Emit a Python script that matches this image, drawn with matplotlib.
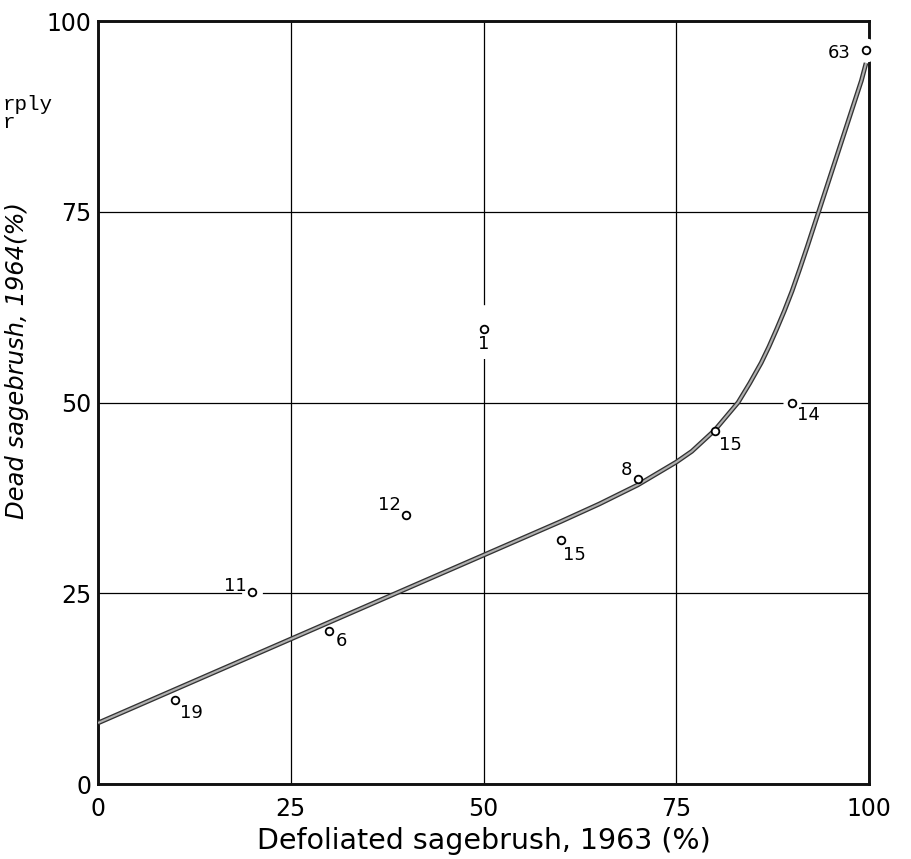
import numpy as np
import matplotlib
matplotlib.use("Agg")
import matplotlib.pyplot as plt

# Observed points: % defoliated 1963 vs % dead 1964, with sample sizes
defoliated = [10, 20, 30, 40, 50, 60, 70, 80, 90, 99.6]
dead = [11, 25.2, 20, 35.3, 59.7, 32, 40, 46.3, 50, 96.2]
n_plants = ["19", "11", "6", "12", "1", "15", "8", "15", "14", "63"]

# Hand-drawn fitted curve
curve_x = [0, 10, 20, 25, 30, 40, 50, 55, 60, 65, 70, 75, 77, 80, 83,
           84.5, 86, 87, 88, 89, 90, 91, 92, 93, 94, 95, 96, 97, 98, 99, 99.6]
curve_y = [8, 12.4, 16.8, 19, 21.2, 25.6, 30, 32.2, 34.4, 36.7, 39.2, 42.2,
           43.6, 46.4, 50, 52.5, 55.2, 57.3, 59.6, 62.0, 64.6, 67.5, 70.5,
           73.6, 76.7, 79.8, 82.9, 86.0, 89.1, 92.2, 94.5]

ticks = [0, 25, 50, 75, 100]
tick_labels = ["0", "25", "50", "75", "100"]

# label offsets (points) relative to each marker
label_offsets = [(12, -9), (-12, 4), (9, -7), (-12, 7), (0, -11.5),
                 (10, -11), (-8, 6), (11.5, -10), (12, -9), (-19, -2)]
halo_sizes = [0, 14, 0, 0, 34, 0, 0, 14, 12, 16]

fig = plt.figure(figsize=(9.12, 8.59), dpi=100)
ax = fig.add_axes([0.1075, 0.0873, 0.8455, 0.8882])

ax.set_xlim(0, 100)
ax.set_ylim(0, 100)
ax.set_xticks(ticks)
ax.set_yticks(ticks)
ax.set_xticklabels(tick_labels)
ax.set_yticklabels(tick_labels)
ax.tick_params(axis="both", length=0, labelsize=17, colors="black")
ax.tick_params(axis="x", pad=9)
ax.tick_params(axis="y", pad=5)

for spine in ax.spines.values():
    spine.set_linewidth(2.1)
    spine.set_color("#111111")
    spine.set_zorder(1.5)

ax.grid(True, color="black", linewidth=0.9, zorder=1)
ax.set_axisbelow(True)

# white halos interrupting grid lines around some markers
for x, y, h in zip(defoliated, dead, halo_sizes):
    if h:
        ax.plot(x, y, "o", ms=h, mfc="white", mec="white", zorder=2,
                clip_on=False)

# fitted curve: double-edged grey line
ax.plot(curve_x, curve_y, color="#333333", lw=3.4, zorder=3,
        solid_capstyle="butt", solid_joinstyle="round")
ax.plot(curve_x, curve_y, color="#b0b0b0", lw=1.5, zorder=3.1,
        solid_capstyle="butt", solid_joinstyle="round")

for x, y, lab, off in zip(defoliated, dead, n_plants, label_offsets):
    t = ax.annotate(lab, (x, y), xytext=off, textcoords="offset points",
                    ha="center", va="center", fontsize=13, zorder=5)
    if lab == "1":
        t.set_bbox(dict(facecolor="white", edgecolor="none", pad=4))

ax.plot(defoliated, dead, "o", ms=5.5, mfc="white", mec="black", mew=1.3,
        ls="none", zorder=6, clip_on=False)

ax.set_xlabel("Defoliated sagebrush, 1963 (%)", fontsize=20.5, labelpad=5)
ax.set_ylabel("Dead sagebrush, 1964(%)", fontsize=17.5, style="italic")
ax.yaxis.set_label_coords(-0.09, 0.555)

fig.text(0.003, 0.889, "rply\nr", family="Liberation Mono", fontsize=15,
         va="top", ha="left", linespacing=0.9)

fig.savefig("out.png", dpi=100)
